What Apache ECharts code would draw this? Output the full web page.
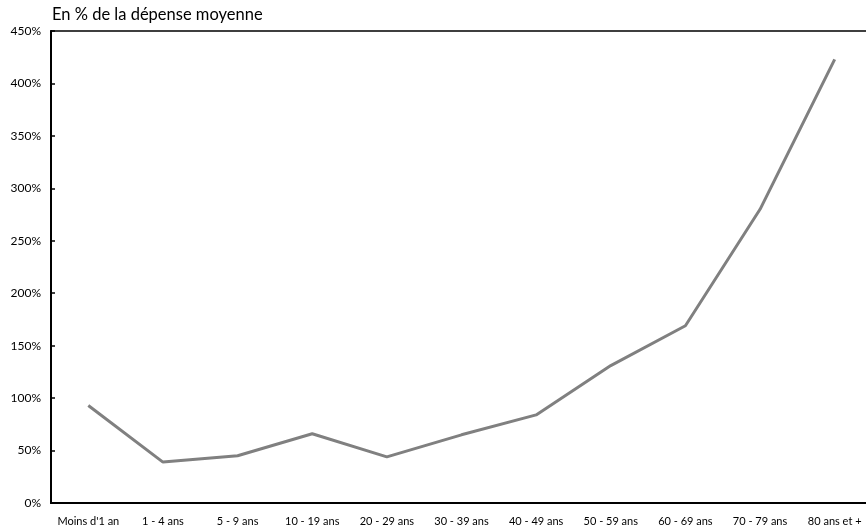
<!DOCTYPE html>
<html><head><meta charset="utf-8">
<script src="https://cdn.jsdelivr.net/npm/echarts@6/dist/echarts.min.js"></script>
<style>html,body{margin:0;padding:0;background:#fff}#c{width:866px;height:532px}</style>
</head><body><div id="c"></div>
<script>
const categories = ["Moins d'1 an","1 - 4 ans","5 - 9 ans","10 - 19 ans","20 - 29 ans","30 - 39 ans","40 - 49 ans","50 - 59 ans","60 - 69 ans","70 - 79 ans","80 ans et +"];
const values = [93, 39, 45, 66, 44, 65, 84, 131, 169, 280, 423];
const yTicks = [0, 50, 100, 150, 200, 250, 300, 350, 400, 450];
const titleText = "En % de la dépense moyenne";

const chart = echarts.init(document.getElementById('c'));
const font = 'Lato, "Open Sans", sans-serif';
chart.setOption({
  animation: false,
  textStyle: {fontFamily: font},
  title: {text: titleText, left: 47, top: 1, textStyle: {fontSize: 16.5, fontWeight: 'normal', color: '#000', fontFamily: font}},
  grid: {left: 51, top: 31, right: -6, bottom: 29, show: true, borderColor: '#000', borderWidth: 1.5, containLabel: false, outerBoundsMode: 'none'},
  xAxis: {
    type: 'category', data: categories, boundaryGap: true,
    axisLine: {lineStyle: {color: '#000', width: 2}},
    axisTick: {inside: true, length: 4, lineStyle: {color: '#000', width: 1.5}},
    axisLabel: {color: '#000', fontSize: 11, margin: 13, interval: 0, fontFamily: font}
  },
  yAxis: {
    type: 'value', min: yTicks[0], max: yTicks[yTicks.length-1], interval: 50,
    splitLine: {show: false},
    axisLine: {show: true, lineStyle: {color: '#000', width: 2}},
    axisTick: {show: true, inside: true, length: 4, lineStyle: {color: '#000', width: 1.5}},
    axisLabel: {color: '#000', fontSize: 12, margin: 10, formatter: v => v + '%', fontFamily: font}
  },
  series: [{
    type: 'line', data: values, symbol: 'none',
    lineStyle: {color: '#808080', width: 3}
  }]
});
</script></body></html>
